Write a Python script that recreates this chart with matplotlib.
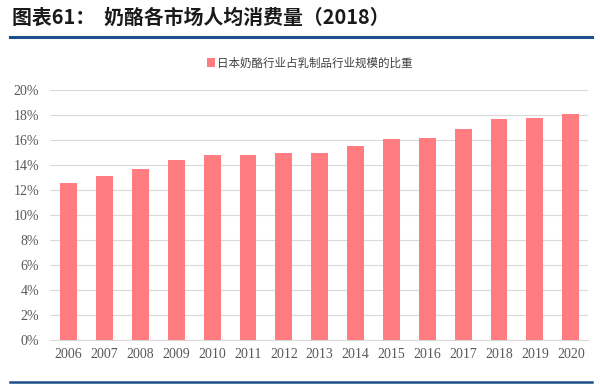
import matplotlib
matplotlib.use("Agg")
import matplotlib.pyplot as plt
from matplotlib.lines import Line2D
from matplotlib.patches import Patch
from matplotlib.ticker import FuncFormatter

plt.rcParams['font.family'] = ['Noto Sans CJK SC', 'DejaVu Sans']

years = ['2006', '2007', '2008', '2009', '2010', '2011', '2012', '2013',
         '2014', '2015', '2016', '2017', '2018', '2019', '2020']
share = [12.6, 13.1, 13.7, 14.4, 14.8, 14.8, 15.0, 15.0,
         15.5, 16.1, 16.2, 16.9, 17.7, 17.8, 18.1]
yticks = [0, 2, 4, 6, 8, 10, 12, 14, 16, 18, 20]
title = '图表61：  奶酪各市场人均消费量（2018）'
legend_label = '日本奶酪行业占乳制品行业规模的比重'

bar_color = '#FF7C80'
blue = '#1F4E8C'

fig = plt.figure(figsize=(6, 3.87), dpi=100)
fig.patch.set_facecolor('white')

ax = fig.add_axes([50/600, 1-340/387, 538/600, 250/387])
x = list(range(len(years)))
ax.bar(x, share, width=0.47, color=bar_color, zorder=3)
ax.set_xlim(-0.52, len(years) - 0.52)
ax.set_ylim(0, 20)
ax.set_yticks(yticks)
ax.yaxis.set_major_formatter(FuncFormatter(lambda v, p: f'{v:.0f}%'))
ax.set_xticks(x)
ax.set_xticklabels(years)
ax.grid(axis='y', color='#D9D9D9', linewidth=0.8, zorder=0)
for s in ['top', 'right', 'left']:
    ax.spines[s].set_visible(False)
ax.spines['bottom'].set_color('#D9D9D9')
ax.tick_params(axis='both', length=0, labelsize=9, colors='#595959')
ax.tick_params(axis='y', pad=8)
ax.tick_params(axis='x', pad=6)
for lbl in ax.get_xticklabels() + ax.get_yticklabels():
    lbl.set_family(['Liberation Serif', 'DejaVu Serif'])
    lbl.set_fontsize(10)

handle = Patch(facecolor=bar_color, edgecolor='none')
fig.legend([handle], [legend_label], loc='center', bbox_to_anchor=(310/600, 1-63/387),
           frameon=False, fontsize=8.3, handlelength=0.7, handleheight=0.7,
           handletextpad=0.2, labelcolor='#404040')

fig.text(12/600, 1-17/387, title, fontsize=14.3, fontweight='bold', color='#1a1a1a',
         va='center', ha='left')
fig.add_artist(Line2D([10/600, 592/600], [1-37/387, 1-37/387], color=blue, linewidth=2.2))
fig.add_artist(Line2D([10/600, 592/600], [1-382/387, 1-382/387], color=blue, linewidth=1.8))

fig.savefig('out.png', dpi=100, facecolor='white')
